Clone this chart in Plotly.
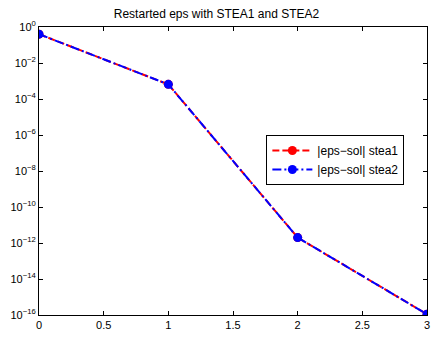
import plotly.graph_objects as go

x_vals = [0, 1, 2, 3]
stea1 = [0.4, 6.5e-4, 2.0e-12, 1.1e-16]
stea2 = [0.4, 6.5e-4, 2.0e-12, 1.1e-16]
x_ticks = [0, 0.5, 1, 1.5, 2, 2.5, 3]
x_ticklabels = ["0", "0.5", "1", "1.5", "2", "2.5", "3"]
y_exps = [0, -2, -4, -6, -8, -10, -12, -14, -16]

fig = go.Figure()
fig.add_trace(go.Scatter(x=x_vals, y=stea1, mode="lines+markers", name="|eps\u2212sol| stea1",
                         line=dict(color="red", width=2, dash="7px,3px"),
                         marker=dict(color="red", size=9, symbol="circle")))
fig.add_trace(go.Scatter(x=x_vals, y=stea2, mode="lines+markers", name="|eps\u2212sol| stea2",
                         line=dict(color="blue", width=2, dash="9px,3px,2px,3px"),
                         marker=dict(color="blue", size=9, symbol="circle")))

axis_common = dict(showline=True, linecolor="black", linewidth=1, mirror="ticks",
                   ticks="inside", ticklen=4, tickcolor="black", showgrid=False, zeroline=False,
                   ticklabeloverflow="allow")

fig.update_layout(
    width=433, height=350,
    margin=dict(l=39, r=3, t=27, b=35),
    paper_bgcolor="white", plot_bgcolor="white",
    font=dict(family="Liberation Sans, Arial, sans-serif", size=11, color="black"),
    title=dict(text="Restarted eps with STEA1 and STEA2", x=0.5, xanchor="center",
               y=1 - 14 / 350, yanchor="middle", font=dict(size=12)),
    xaxis=dict(range=[-1e-9, 3 + 1e-9], tickvals=x_ticks, ticktext=x_ticklabels, **axis_common),
    yaxis=dict(type="log", range=[-16.0000001, 0.0000001],
               tickvals=[10 ** e for e in y_exps],
               ticktext=["10<sup>%s</sup>" % (str(e) if e == 0 else "\u2212" + str(-e)) for e in y_exps],
               **axis_common),
    legend=dict(x=0.586, y=0.625, xanchor="left", yanchor="top",
                bordercolor="black", borderwidth=1, bgcolor="white",
                font=dict(size=12), tracegroupgap=0, itemwidth=40),
    showlegend=True,
)

fig.write_html("out.html")
